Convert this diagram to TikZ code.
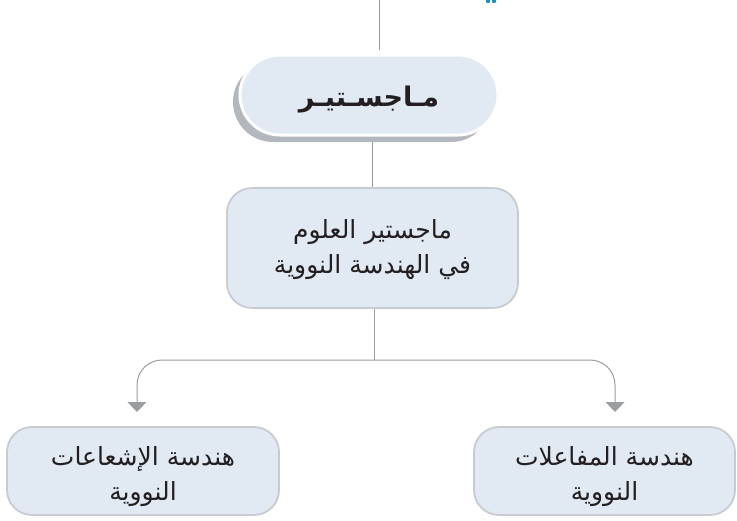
\documentclass[tikz,border=0pt]{standalone}
\usepackage{fontspec}
\usetikzlibrary{arrows.meta,shadows,backgrounds}
\TeXXeTstate=1
\newfontfamily\arabicfont[Script=Arabic]{DejaVu Sans}
\definecolor{boxfill}{HTML}{E1E9F2}
\definecolor{boxline}{HTML}{C8CCD1}
\definecolor{conn}{HTML}{9A9DA2}
\definecolor{shade}{HTML}{B3B8BE}
\definecolor{txt}{HTML}{231F20}
\definecolor{dotblue}{HTML}{1A8FC0}
\tikzset{
  pill/.style={rectangle, rounded corners=40pt, fill=boxfill, draw=white, line width=3pt,
    minimum width=258pt, minimum height=80pt, inner sep=0pt, text=txt,
    font=\arabicfont\bfseries\fontsize{27}{30}\selectfont,
    drop shadow={shadow xshift=-7pt, shadow yshift=-7pt, fill=shade, opacity=1}},
  infobox/.style={rectangle, rounded corners=25pt, fill=boxfill, draw=boxline, line width=1.8pt,
    inner sep=0pt},
  infotext/.style={inner sep=0pt, align=center, text=txt, font=\arabicfont\fontsize{25}{35}\selectfont},
  conline/.style={draw=conn, line width=1pt},
  arr/.style={conline, rounded corners=25pt, -{Triangle[width=19pt,length=10pt]}, fill=none}
}
\begin{document}
\begin{tikzpicture}[x=1pt,y=-1pt]
\useasboundingbox (0,0) rectangle (737,520);
\fill[dotblue] (488,1) circle (2.2pt) (494,1) circle (2.2pt);
\node[pill] (p) at (369,95) {};
\node[inner sep=0pt, text=txt, font=\arabicfont\bfseries\fontsize{27}{30}\selectfont] (pt) at ([yshift=-5pt]p.center)
  {\beginR مـاجسـتيـر\endR};
\node[infobox, minimum width=291pt, minimum height=120pt] (m) at (372.5,248) {};
\node[infotext] (mt) at ([yshift=-2pt]m.center)
  {\beginR ماجستير العلوم\endR\\\beginR في الهندسة النووية\endR};
\node[infobox, minimum width=272pt, minimum height=88pt] (l) at (143,471) {};
\node[infotext] (lt) at ([yshift=-6pt]l.center)
  {\beginR هندسة الإشعاعات\endR\\\beginR النووية\endR};
\node[infobox, minimum width=261pt, minimum height=88pt] (r) at (604.5,471) {};
\node[infotext] (rt) at ([yshift=-6pt]r.center)
  {\beginR هندسة المفاعلات\endR\\\beginR النووية\endR};
\coordinate (top) at (379,0);
\coordinate (topend) at (379,50);
\coordinate (j) at (374,360);
\coordinate (la) at (137,412);
\coordinate (ra) at (615,412);
\begin{scope}[on background layer]
\fill[white] (0,0) rectangle (737,520);
\draw[conline] (top) -- (topend);
\draw[conline] (m.north |- p.south) -- (m.north);
\draw[conline] (m.south -| j) -- (j);
\end{scope}
\draw[arr] (j) -| (la);
\draw[arr] (j) -| (ra);
\end{tikzpicture}
\end{document}
